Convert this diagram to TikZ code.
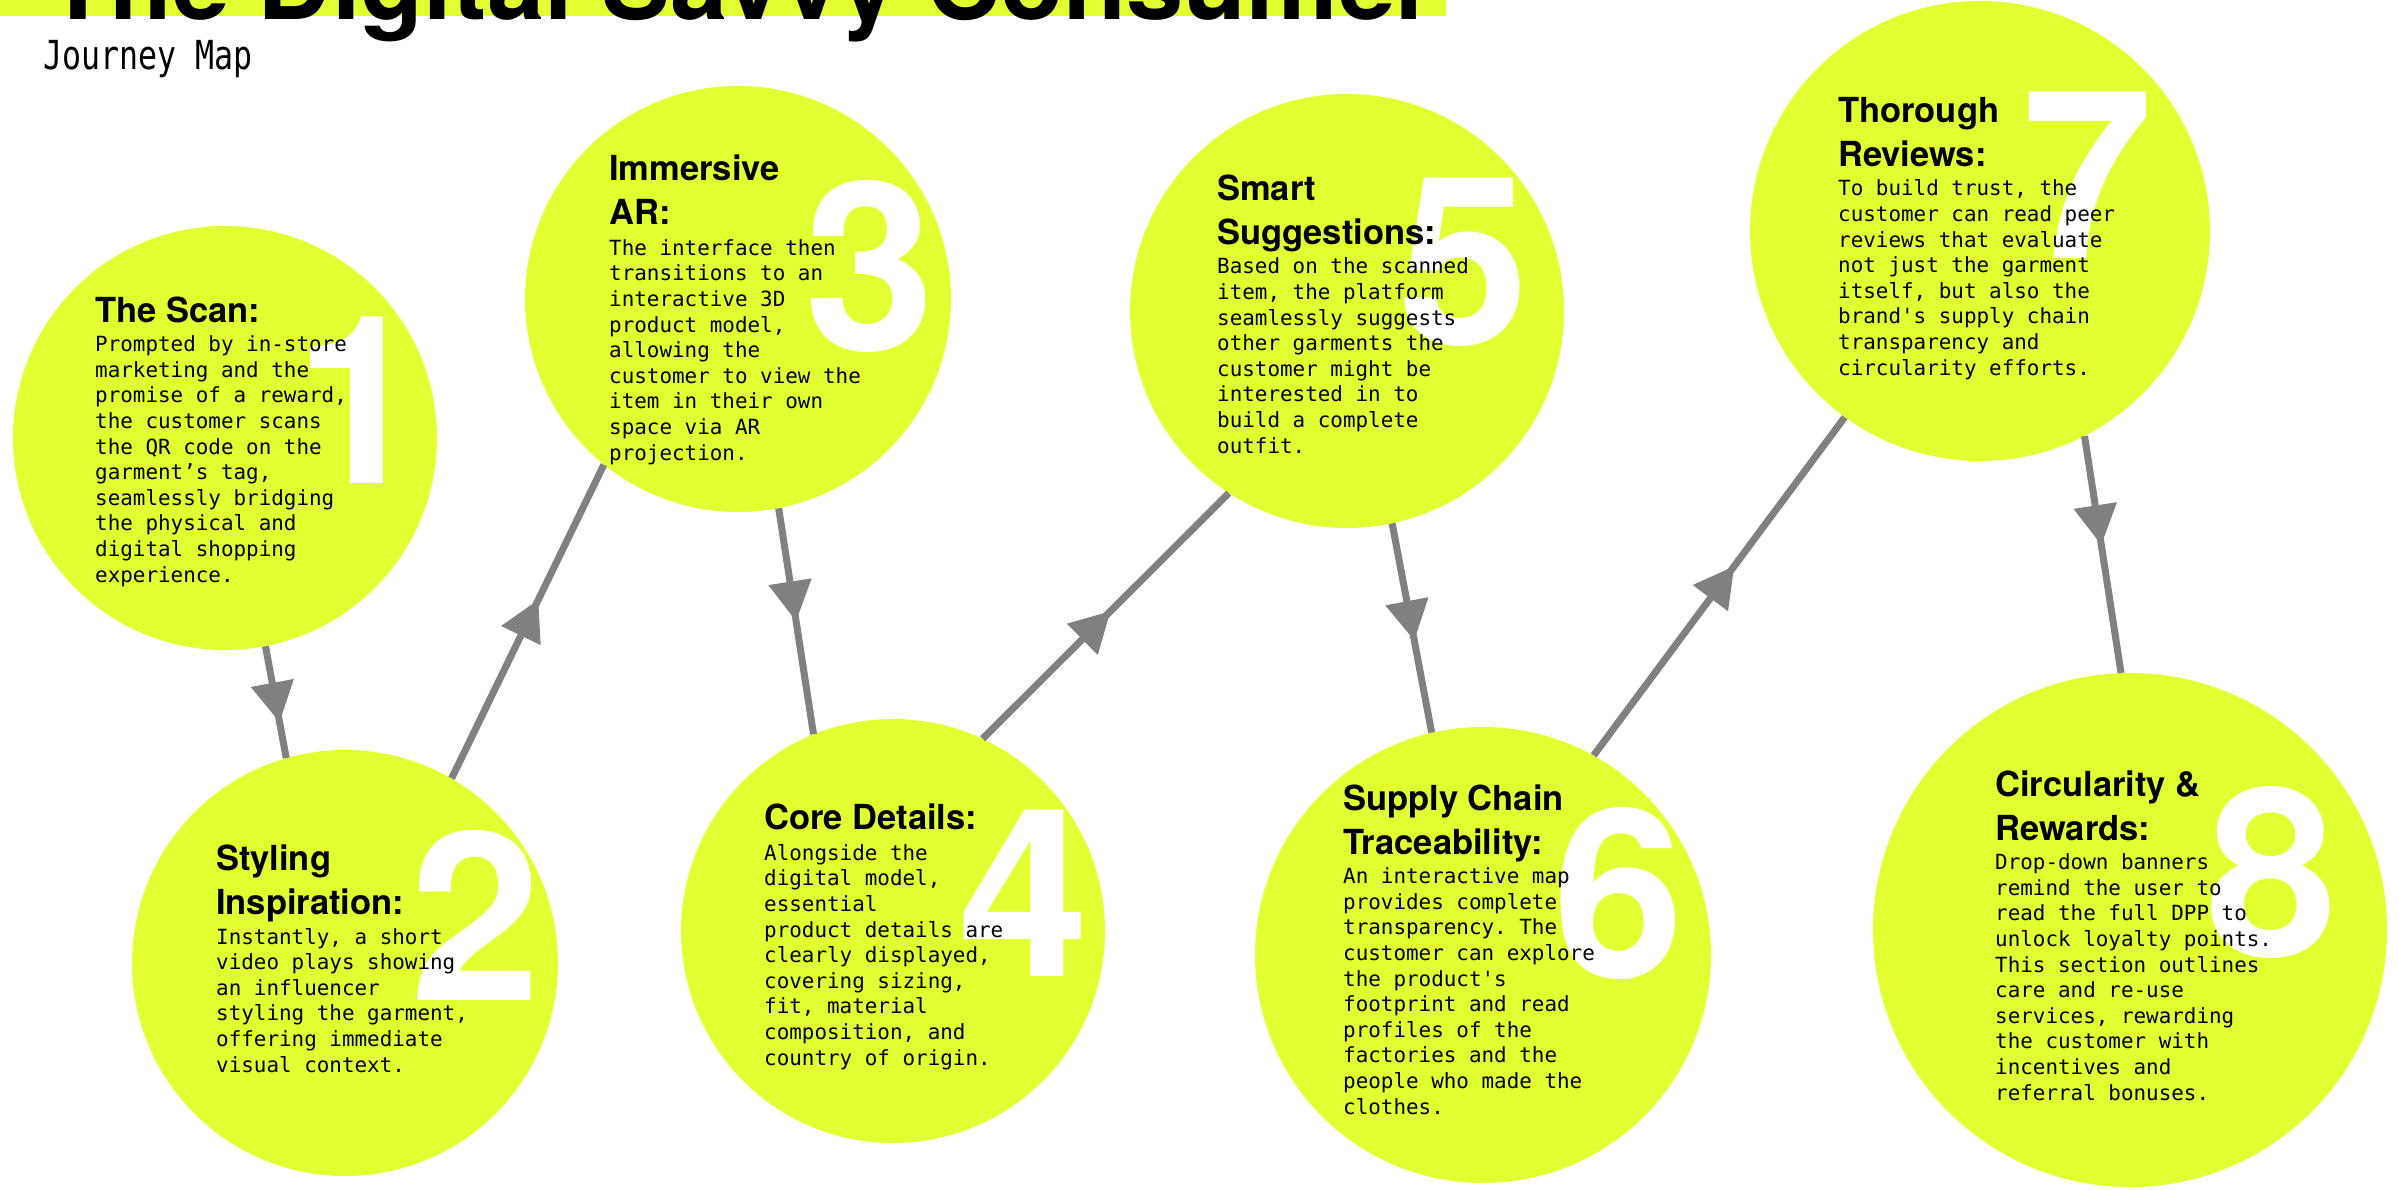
\documentclass[tikz,border=0pt]{standalone}
\usepackage{fontspec}
\setmainfont{TeX Gyre Heros}
\setmonofont{DejaVu Sans Mono}
\usepackage{xcolor}
\definecolor{colorStage}{HTML}{E2FF32}
\definecolor{colorLink}{HTML}{808080}
\usepackage{tikz}
\usetikzlibrary{arrows.meta, decorations.markings}
\tikzset{stage/.style={circle, fill=colorStage, inner sep=0pt, minimum size=#1},
stagenum/.style={text=white, inner sep=0pt, font=\bfseries\fontsize{235bp}{235bp}\selectfont},
stagehead/.style={anchor=base west, align=left, inner sep=0pt, font=\bfseries\fontsize{34.5bp}{44bp}\selectfont},
stagetext/.style={anchor=base west, align=left, inner sep=0pt, font=\ttfamily\fontsize{20.9bp}{25.6bp}\selectfont},
journey/.style={draw, color=colorLink, line width=7bp, postaction={decorate}, decoration={markings, mark=at position #1 with {\arrow{Triangle[length=40bp,width=42bp]}}}},
journey/.default=0.55}

\begin{document}
\begin{tikzpicture}[x=1bp, y=-1bp]
\useasboundingbox (0,0) rectangle (2399,1189);
\clip (0,0) rectangle (2399,1189);
\fill[colorStage] (0,0) rectangle (1446,16);
\node[anchor=base west, inner sep=0pt, font=\bfseries\fontsize{103bp}{103bp}\selectfont] (title) at (46,19) {The Digital Savvy Consumer};
\node[anchor=base west, inner sep=0pt, font=\ttfamily\fontsize{40bp}{40bp}\selectfont] (subtitle) at (43,69) {\scalebox{0.79}[1]{Journey Map}};
\node[stage=424bp] (c1) at (225,438) {};
\node[stage=426bp] (c2) at (345,963) {};
\node[stage=426bp] (c3) at (738,299) {};
\node[stage=424bp] (c4) at (893,931) {};
\node[stage=434bp] (c5) at (1347,311) {};
\node[stage=456bp] (c6) at (1483,955) {};
\node[stage=460bp] (c7) at (1980,231) {};
\node[stage=514bp] (c8) at (2130,930) {};
\draw[journey=0.68] (c1.-79) -- (c2.106);
\draw[journey=0.57] (c2.60) -- (c3.-129);
\draw[journey=0.5] (c3.-79) -- (c4.112);
\draw[journey=0.52] (c4.65) -- (c5.-123);
\draw[journey=0.56] (c5.-78) -- (c6.103);
\draw[journey=0.56] (c6.61) -- (c7.-126);
\draw[journey=0.46] (c7.-63) -- (c8.92);
\node[stagenum] (n1) at (360,400) {1};
\node[stagenum] (n2) at (476,915) {2};
\node[stagenum] (n3) at (870,266) {3};
\node[stagenum] (n4) at (1024,893) {4};
\node[stagenum] (n5) at (1464,262) {5};
\node[stagenum] (n6) at (1619,893) {6};
\node[stagenum] (n7) at (2088,175) {7};
\node[stagenum] (n8) at (2272,872) {8};
\node[stagehead] (h1) at (95,322) {The Scan:};
\node[stagetext] (t1) at (95,582) {Prompted by in-store\\marketing and the\\promise of a reward,\\the customer scans\\the QR code on the\\garment’s tag,\\seamlessly bridging\\the physical and\\digital shopping\\experience.};
\node[stagehead] (h2) at (216,914) {Styling\\Inspiration:};
\node[stagetext] (t2) at (216,1072) {Instantly, a short\\video plays showing\\an influencer\\styling the garment,\\offering immediate\\visual context.};
\node[stagehead] (h3) at (609,224) {Immersive\\AR:};
\node[stagetext] (t3) at (609,460) {The interface then\\transitions to an\\interactive 3D\\product model,\\allowing the\\customer to view the\\item in their own\\space via AR\\projection.};
\node[stagehead] (h4) at (764,829) {Core Details:};
\node[stagetext] (t4) at (764,1065) {Alongside the\\digital model,\\essential\\product details are\\clearly displayed,\\covering sizing,\\fit, material\\composition, and\\country of origin.};
\node[stagehead] (h5) at (1217,244) {Smart\\Suggestions:};
\node[stagetext] (t5) at (1217,453) {Based on the scanned\\item, the platform\\seamlessly suggests\\other garments the\\customer might be\\interested in to\\build a complete\\outfit.};
\node[stagehead] (h6) at (1343,854) {Supply Chain\\Traceability:};
\node[stagetext] (t6) at (1343,1114) {An interactive map\\provides complete\\transparency. The\\customer can explore\\the product's\\footprint and read\\profiles of the\\factories and the\\people who made the\\clothes.};
\node[stagehead] (h7) at (1838,166) {Thorough\\Reviews:};
\node[stagetext] (t7) at (1838,375) {To build trust, the\\customer can read peer\\reviews that evaluate\\not just the garment\\itself, but also the\\brand's supply chain\\transparency and\\circularity efforts.};
\node[stagehead] (h8) at (1995,840) {Circularity \&\\Rewards:};
\node[stagetext] (t8) at (1995,1100) {Drop-down banners\\remind the user to\\read the full DPP to\\unlock loyalty points.\\This section outlines\\care and re-use\\services, rewarding\\the customer with\\incentives and\\referral bonuses.};
\end{tikzpicture}
\end{document}
